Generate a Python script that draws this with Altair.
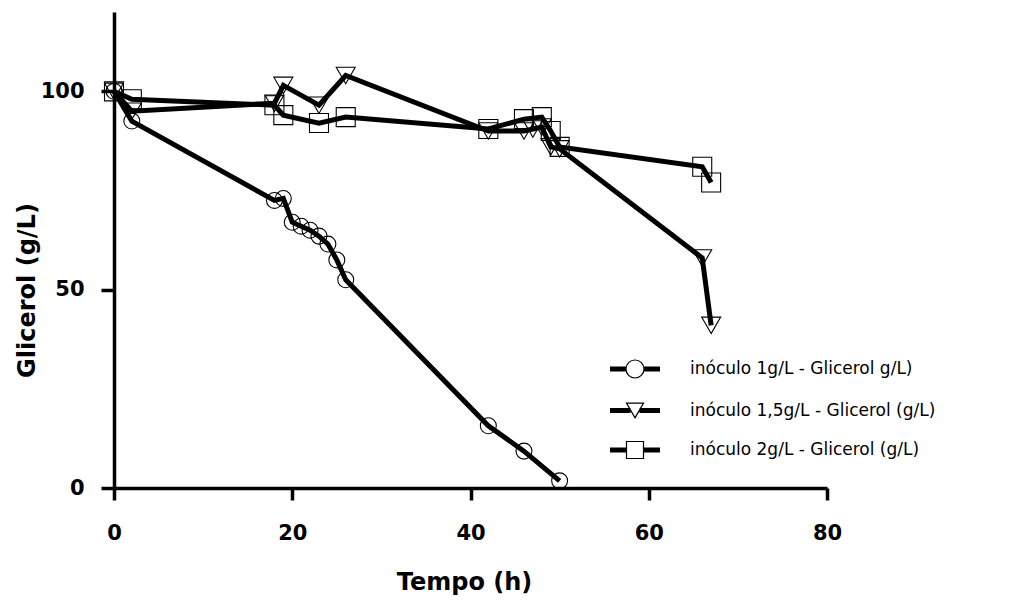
import altair as alt
import pandas as pd

# ---- data ----
series = [
    "inóculo 1g/L - Glicerol g/L)",
    "inóculo 1,5g/L - Glicerol (g/L)",
    "inóculo 2g/L - Glicerol (g/L)",
]

t1 = [0, 2, 18, 19, 20, 21, 22, 23, 24, 25, 26, 42, 46, 50]
g1 = [100, 92.5, 72.5, 73, 67, 66, 65, 63.5, 61.5, 57.5, 52.5, 15.7, 9.3, 1.8]

t2 = [0, 2, 18, 19, 23, 26, 42, 46, 47, 48, 49, 50, 66, 67]
g2 = [100, 95, 97, 101.5, 96.5, 104, 90, 90, 90.5, 91, 86, 85.5, 58, 41]

t3 = [0, 2, 18, 19, 23, 26, 42, 46, 48, 49, 50, 66, 67]
g3 = [100, 98, 96.5, 94, 92, 93.5, 90.5, 93, 93.5, 90, 86, 81, 77]

x_ticks = [0, 20, 40, 60, 80]
y_ticks = [0, 50, 100]

frames = []
for name, t, g in zip(series, [t1, t2, t3], [g1, g2, g3]):
    frames.append(pd.DataFrame({"t": t, "g": g, "serie": name}))
df = pd.concat(frames, ignore_index=True)

FONT = "DejaVu Sans"

x_enc = alt.X(
    "t:Q",
    scale=alt.Scale(domain=[0, 80], nice=False, zero=False),
    axis=alt.Axis(
        values=x_ticks, title="Tempo (h)", grid=False,
        domainColor="black", domainWidth=3.5,
        tickColor="black", tickWidth=3.5, tickSize=12,
        labelFont=FONT, labelFontSize=21, labelFontWeight="bold",
        labelColor="black", labelPadding=22, labelFlush=False, labelOverlap=False,
        titleFont=FONT, titleFontSize=24, titleFontWeight="bold", titleColor="black",
        titleX=350, titleY=94, titleBaseline="middle",
    ),
)
y_enc = alt.Y(
    "g:Q",
    scale=alt.Scale(domain=[0, 120], nice=False),
    axis=alt.Axis(
        values=y_ticks, title="Glicerol (g/L)", grid=False,
        domainColor="black", domainWidth=3.5,
        tickColor="black", tickWidth=3.5, tickSize=13,
        labelFont=FONT, labelFontSize=21, labelFontWeight="bold",
        labelColor="black", labelPadding=17, labelFlush=False, labelOverlap=False,
        titleFont=FONT, titleFontSize=24, titleFontWeight="bold", titleColor="black",
        titleX=-87, titleY=278, titleBaseline="middle", titleAngle=-90,
    ),
)

base = alt.Chart(df)

shapes = ["circle", "triangle-down", "square"]
sizes = [254, 361, 361]
point_layers = []
for name, shp, sz in zip(series, shapes, sizes):
    point_layers.append(
        base.transform_filter(alt.datum.serie == name)
        .mark_point(shape=shp, size=sz, filled=False, color="black",
                    strokeWidth=1.1, opacity=1)
        .encode(x=x_enc, y=y_enc)
    )

lines = base.mark_line(color="black", strokeWidth=5).encode(
    x=x_enc, y=y_enc, detail="serie:N"
)

# legend symbols: thick line with open marker in the middle
def bars(a):
    parts = []
    for dy in [-0.2, -0.1, 0, 0.1, 0.2]:
        parts.append(f"M-2.5,{dy}L{-a},{dy}M{a},{dy}L2.5,{dy}")
    return "".join(parts)

circle_path = "M0.9,0A0.9,0.9,0,1,1,-0.9,0A0.9,0.9,0,1,1,0.9,0Z" + bars(0.9)
tri_path = "M0,0.74L0.85,-0.74L-0.85,-0.74Z" + bars(0.45)
square_path = "M-0.85,-0.85L0.85,-0.85L0.85,0.85L-0.85,0.85Z" + bars(0.85)

legend_layer = (
    base.transform_filter("false")
    .mark_point(filled=False, color="black", strokeWidth=1.2, opacity=1)
    .encode(
        x=x_enc, y=y_enc,
        shape=alt.Shape(
            "serie:N",
            scale=alt.Scale(domain=series, range=[circle_path, tri_path, square_path]),
            legend=alt.Legend(
                orient="none", legendX=510, legendY=346, title=None,
                padding=0, rowPadding=18.5, labelOffset=44,
                labelFont=FONT, labelFontSize=17, labelColor="black",
                labelLimit=500, symbolSize=400, symbolStrokeWidth=1.2,
                symbolStrokeColor="black", symbolFillColor="transparent",
            ),
        ),
    )
)

chart = (
    alt.layer(*point_layers, lines, legend_layer)
    .properties(
        width=713, height=476,
        padding={"left": 114, "top": 12, "right": 195, "bottom": 115},
        autosize=alt.AutoSizeParams(type="none"),
        background="white",
    )
    .configure_view(stroke=None)
)

chart.save("out.html", embed_options={"renderer": "svg", "actions": False})
